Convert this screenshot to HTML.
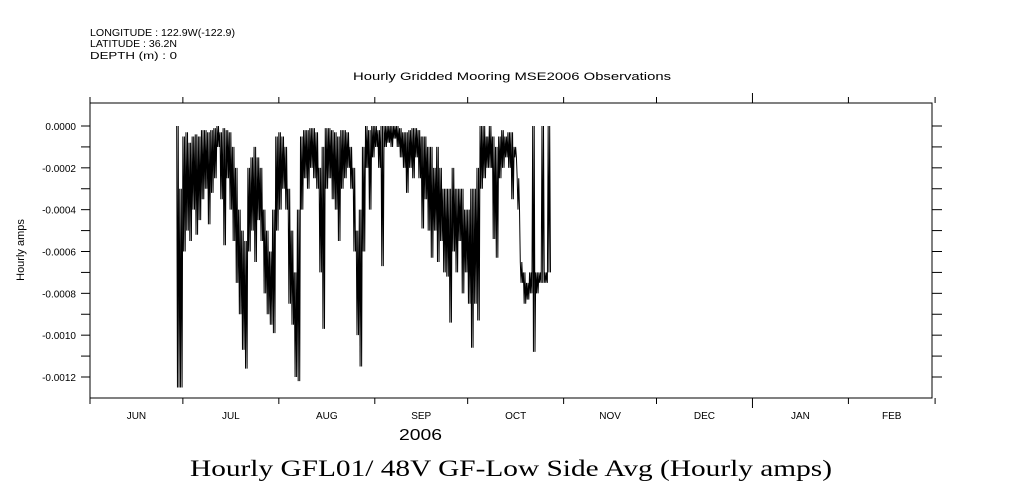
<!DOCTYPE html>
<html><head><meta charset="utf-8"><style>
html,body{margin:0;padding:0;background:#fff;}
svg{display:block;font-family:"Liberation Sans",sans-serif;}
</style></head><body>
<svg id="chart" width="1009" height="504" viewBox="0 0 1009 504" xmlns="http://www.w3.org/2000/svg">
<g font-size="10" fill="#000">
<text x="90" y="36" textLength="145" lengthAdjust="spacingAndGlyphs">LONGITUDE : 122.9W(-122.9)</text>
<text x="90" y="47" textLength="87" lengthAdjust="spacingAndGlyphs">LATITUDE : 36.2N</text>
<text x="90" y="59" textLength="87" lengthAdjust="spacingAndGlyphs">DEPTH (m) : 0</text>
</g>
<text x="353" y="80" font-size="11" textLength="318" lengthAdjust="spacingAndGlyphs">Hourly Gridded Mooring MSE2006 Observations</text>
<rect x="90" y="103" width="842" height="295" fill="none" stroke="#000" stroke-width="1"/>
<g id="yaxis"></g>
<g id="xaxis"></g>
<g id="series"></g>
<text transform="translate(24,250) rotate(-90)" font-size="11" text-anchor="middle">Hourly amps</text>
<text x="399" y="440" font-size="16" textLength="43" lengthAdjust="spacingAndGlyphs">2006</text>
<text x="190" y="476" font-size="23" textLength="642" lengthAdjust="spacingAndGlyphs" font-family="Liberation Serif, serif">Hourly GFL01/ 48V GF-Low Side Avg (Hourly amps)</text>
</svg>
<script>
const yTicks=[0,-0.0002,-0.0004,-0.0006,-0.0008,-0.0010,-0.0012];
const yTickLabels=["0.0000","-0.0002","-0.0004","-0.0006","-0.0008","-0.0010","-0.0012"];
const monthLabels=["JUN","JUL","AUG","SEP","OCT","NOV","DEC","JAN","FEB"];
const monthStartDays=[0,30,61,92,122,153,183,214,245,273];
const startDay=28;
// daily envelope, units of 1e-4 amps
const dailyHigh=[0,-3,-0.5,-0.3,-0.8,-0.5,-0.4,-0.5,-0.2,-0.2,-0.3,-0.2,-0.1,0,-0.3,-0.1,-0.2,-0.3,-1,-2,-4,-5,-5.5,-2,-1.5,-1,-1.5,-2,-4,-5,-6,-4,-0.5,-0.3,-0.5,-1,-3,-5,-7,-4,-0.5,-0.2,-0.2,-0.1,-0.1,-0.3,-2,-1,-0.1,-0.1,-0.2,-0.3,-0.5,-0.2,-0.2,-0.3,-1,-2,-5,-4,-1,0,-0.2,0,0,-0.2,0,0,0,0,0,0,-0.1,-0.3,-0.3,-0.2,-0.1,-0.1,-0.2,-0.5,-0.5,-1,-1,-2,-1,-2,-3,-3,-3,-2,-3,-3,-3,-4,-4,-3,-3,-2,0,0,-0.5,0,-0.5,-1,-0.5,-0.2,-0.5,-0.3,-0.3,-1,-2.5,-6.5,-7,-7.5,-7,0,-7,-7,0,-7,0];
const dailyLow=[-12.5,-12.5,-6,-5,-5.5,-4,-5.2,-4.5,-3.5,-3,-4.7,-3.2,-2.5,-1,-3.5,-5.7,-2.5,-4,-5.5,-7.5,-9,-10.7,-11.6,-6,-5,-6.5,-4.5,-5.5,-8,-9,-9.5,-9.9,-5,-4,-3,-4,-8.5,-9.5,-12,-12.2,-4,-2.5,-3,-2,-2.5,-3,-7,-9.7,-3,-2.5,-3.5,-4,-5.5,-3,-2.5,-2,-3,-6,-10,-11.5,-6,-2,-4,-1.5,-1,-2,-6.7,-1,-0.8,-1,-0.6,-1,-1.5,-2,-3.2,-2,-2.5,-1.5,-2.5,-4.9,-3.5,-5,-6.3,-5,-6.5,-5.5,-7,-7.2,-9.4,-6,-7,-5.5,-8,-7,-8.5,-10.6,-8.5,-9.3,-3,-2.5,-2,-2,-5.4,-6.3,-2.5,-2,-1.5,-2,-3.5,-1.5,-4,-7.5,-8.5,-8.3,-8,-10.8,-8,-7.5,-7.5,-7.5,-7];
const NS="http://www.w3.org/2000/svg";
const L=90,R=932,T=103,B=398;
const xMin=0,xMax=272;
const yZero=126,yPer=(377-126)/0.0012;
function xs(d){return L+(d-xMin)*(R-L)/(xMax-xMin);}
function ys(v){return yZero-v*yPer;}
function mk(tag,attrs,parent){const e=document.createElementNS(NS,tag);for(const k in attrs)e.setAttribute(k,attrs[k]);parent.appendChild(e);return e;}
const yg=document.getElementById('yaxis');
for(let i=0;i<=12;i++){
  const v=-i*0.0001,y=ys(v);
  const t1=mk('line',{x1:81,x2:L,y1:y,y2:y,stroke:'#000'},yg);
  
  
  const t2=mk('line',{x1:R,x2:942,y1:y,y2:y,stroke:'#000'},yg);
  
  
}
yTicks.forEach((v,i)=>{
  const t=mk('text',{x:76,y:ys(v)+4,'font-size':10,'text-anchor':'end'},yg);
  t.textContent=yTickLabels[i];
  
  
});
const xg=document.getElementById('xaxis');
monthStartDays.forEach((d,i)=>{
  const x=xs(d),len=(i==7)?10:6;
  const a=mk('line',{x1:x,x2:x,y1:T-len,y2:T,stroke:'#000'},xg);
  
  
  const b=mk('line',{x1:x,x2:x,y1:B,y2:B+len,stroke:'#000'},xg);
  
  
});
monthLabels.forEach((m,i)=>{
  const x=(xs(monthStartDays[i])+xs(monthStartDays[i+1]))/2;
  const t=mk('text',{x:x,y:419,'font-size':10,'text-anchor':'middle'},xg);
  t.textContent=m;
  
  
});
const sg=document.getElementById('series');
let pts=[];
for(let i=0;i<dailyHigh.length;i++){
  const d=startDay+i;
  const hi=dailyHigh[i]*1e-4,lo=dailyLow[i]*1e-4;
  const n=2;
  for(let k=0;k<n;k++){
    pts.push(xs(d+k/n).toFixed(2)+','+ys(hi).toFixed(2));
    pts.push(xs(d+(k+0.5)/n).toFixed(2)+','+ys(lo).toFixed(2));
  }
}
const pl=mk('polyline',{points:pts.join(' '),fill:'none',stroke:'#000','stroke-width':1},sg);


</script>
</body></html>
